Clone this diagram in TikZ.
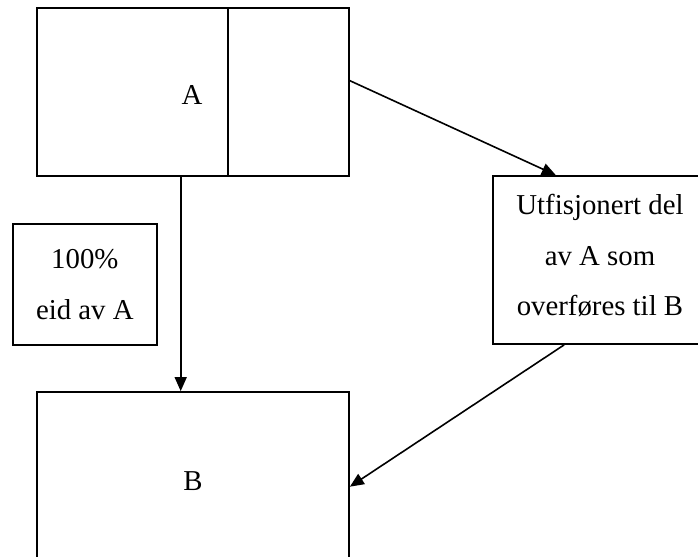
\documentclass[tikz,border=0pt]{standalone}
\usepackage{fontspec}
\setmainfont{Liberation Serif}
\usetikzlibrary{arrows.meta,calc}
\begin{document}
\begin{tikzpicture}[x=0.5pt,y=-0.5pt,
  box/.style={draw,line width=0.9pt,rectangle,inner sep=0pt,align=center,
    font=\fontsize{14.4pt}{25.25pt}\selectfont},
  txt/.style={inner sep=0pt,font=\fontsize{14.4pt}{25.25pt}\selectfont},
  arr/.style={line width=0.8pt,-{Triangle[length=7pt,width=6pt]}}]
\useasboundingbox (0,0) rectangle (698,557);
\clip (0,0) rectangle (698,557);
% box A
\node[box,minimum width=156pt,minimum height=84pt] (A) at (193,92) {};
\draw[line width=0.9pt] ([xshift=96pt]A.north west) -- ([xshift=96pt]A.south west);
\node[txt] (Alabel) at (192,95) {A};
% box B
\node[box,minimum width=156pt,minimum height=89pt] (B) at (193,481) {B};
% small box
\node[box,minimum width=72.2pt,minimum height=60.3pt] (S) at (84.8,284.4) {100\%\\eid av A};
% right box
\node[box,minimum width=107.3pt,minimum height=84pt] (C) at (600,260) {Utfisjonert del\\av A som\\overføres til B\rule[-5pt]{0pt}{0pt}};
% connectors
\draw[arr] ([xshift=-6.15pt]A.south) -- ([xshift=-6.15pt]A.south |- B.north);
\draw[arr] ([yshift=5.65pt]A.east) -- ([xshift=32pt]C.north west);
\draw[arr] ([xshift=36.15pt]C.south west) -- ([yshift=-2.85pt]B.east);
\end{tikzpicture}
\end{document}
